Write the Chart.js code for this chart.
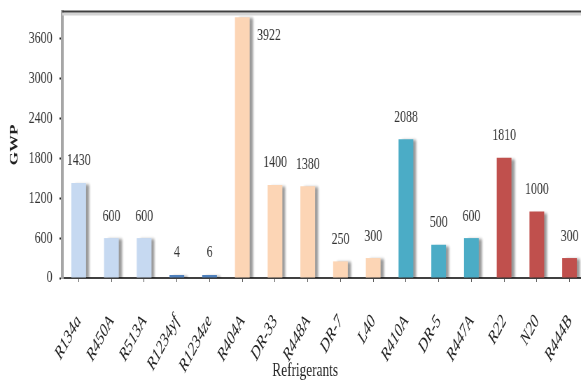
<!DOCTYPE html>
<html>
<head>
<meta charset="utf-8">
<script src="https://cdn.jsdelivr.net/npm/chart.js@4/dist/chart.umd.min.js"></script>
<style>
  html, body { margin: 0; padding: 0; background: #fff; overflow: hidden; width: 581px; height: 381px; }
  /* the chart is drawn wide and set in a horizontally condensed frame */
  #c { display: block; transform: scaleX(0.7); transform-origin: 0 0; }
</style>
</head>
<body>
<canvas id="c" width="837" height="381"></canvas>
<script>
// Global warming potential of refrigerants
const refrigerants = ['R134a', 'R450A', 'R513A', 'R1234yf', 'R1234ze', 'R404A', 'DR-33', 'R448A',
  'DR-7', 'L40', 'R410A', 'DR-5', 'R447A', 'R22', 'N20', 'R444B'];
const gwp = [1430, 600, 600, 4, 6, 3922, 1400, 1380, 250, 300, 2088, 500, 600, 1810, 1000, 300];
const yTicks = [0, 600, 1200, 1800, 2400, 3000, 3600];

// colour groups
const lightBlue = '#c6d9f1', blue = '#4f81bd', peach = '#fcd5b5', teal = '#4bacc6', red = '#c0504d';
const barColors = [lightBlue, lightBlue, lightBlue, blue, blue, peach, peach, peach, peach, peach,
  teal, teal, teal, red, red, red];

const serif = '"Liberation Serif", "DejaVu Serif", serif';

// soft grey drop shadow behind the bars
const barShadow = {
  id: 'barShadow',
  beforeDatasetsDraw(chart) {
    const ctx = chart.ctx;
    ctx.save();
    ctx.shadowColor = 'rgba(0,0,0,0.4)';
    ctx.shadowOffsetX = 5;
    ctx.shadowOffsetY = 1;
    ctx.shadowBlur = 3;
  },
  afterDatasetsDraw(chart) {
    chart.ctx.restore();
  }
};

// top frame, value labels and the category axis title
const decorations = {
  id: 'decorations',
  afterDraw(chart) {
    const ctx = chart.ctx;
    const area = chart.chartArea;
    ctx.save();
    ctx.strokeStyle = '#d4d4d4';
    ctx.lineWidth = 3;
    ctx.beginPath();
    ctx.moveTo(area.left, area.top + 2);
    ctx.lineTo(area.right, area.top + 2);
    ctx.stroke();
    ctx.strokeStyle = '#404040';
    ctx.lineWidth = 2;
    ctx.beginPath();
    ctx.moveTo(area.left, area.top - 0.5);
    ctx.lineTo(area.right, area.top - 0.5);
    ctx.stroke();

    ctx.font = '17px ' + serif;
    ctx.fillStyle = '#333';
    ctx.textBaseline = 'middle';
    const meta = chart.getDatasetMeta(0);
    meta.data.forEach((bar, i) => {
      const v = chart.data.datasets[0].data[i];
      if (bar.y - area.top < 30) {
        ctx.textAlign = 'left';
        ctx.fillText(String(v), bar.x + 21, bar.y + 18);
      } else {
        ctx.textAlign = 'center';
        ctx.fillText(String(v), bar.x, bar.y - 22);
      }
    });

    ctx.font = '19px ' + serif;
    ctx.fillStyle = '#222';
    ctx.textAlign = 'center';
    ctx.fillText('Refrigerants', 436, 371);
    ctx.restore();
  }
};

new Chart(document.getElementById('c'), {
  type: 'bar',
  data: {
    labels: refrigerants,
    datasets: [{
      data: gwp,
      backgroundColor: barColors,
      borderWidth: 0,
      minBarLength: 3,
      categoryPercentage: 1,
      barPercentage: 0.45
    }]
  },
  options: {
    responsive: false,
    animation: false,
    devicePixelRatio: 1,
    layout: { padding: { top: 12, left: 0, right: 0, bottom: 0 } },
    plugins: { legend: { display: false }, tooltip: { enabled: false } },
    scales: {
      x: {
        offset: true,
        grid: { display: true, drawOnChartArea: false, offset: false, tickLength: 4, tickColor: '#555', tickWidth: 1 },
        border: { color: '#404040', width: 2 },
        ticks: {
          autoSkip: false,
          minRotation: 53, maxRotation: 53,
          color: '#222',
          padding: 29,
          font: { family: serif, size: 19, style: 'italic' }
        },
        afterFit(scale) {
          scale.height = 103;
          scale.paddingLeft = 0;
          scale.paddingRight = 0;
        }
      },
      y: {
        min: 0, max: 4000,
        afterBuildTicks(scale) { scale.ticks = yTicks.map(v => ({ value: v })); },
        grid: { display: true, drawOnChartArea: false, tickLength: 4, tickColor: '#222', tickWidth: 2 },
        border: { color: '#a6a6a6', width: 4 },
        ticks: {
          color: '#333',
          padding: 10,
          font: { family: serif, size: 17 },
          callback: v => String(v)
        },
        title: {
          display: true, text: 'GWP', color: '#222',
          font: { family: serif, size: 17, weight: 'bold' },
          padding: { top: 10, bottom: 0 }
        },
        afterFit(scale) {
          scale.width = 89;
          scale.paddingTop = 0;
          scale.paddingBottom = 0;
        }
      }
    }
  },
  plugins: [barShadow, decorations]
});
</script>
</body>
</html>
